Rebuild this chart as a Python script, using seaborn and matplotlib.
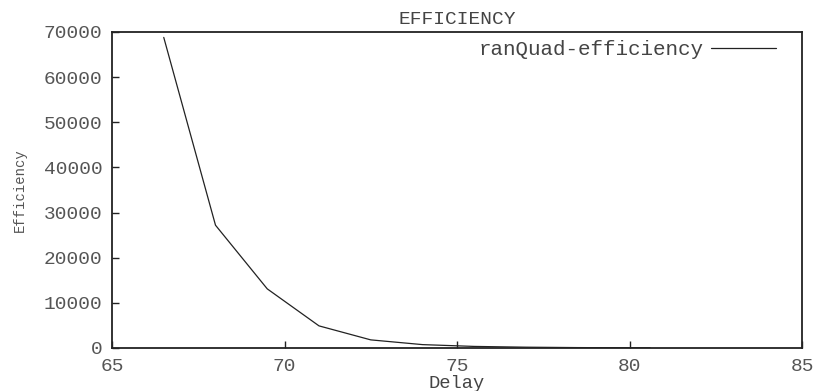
import matplotlib
matplotlib.use('Agg')
import matplotlib.pyplot as plt
import seaborn as sns
import pandas as pd

delay = [66.5, 68.0, 69.5, 71.0, 72.5, 74.0, 75.5, 77.0, 78.5, 80.0, 80.6]
efficiency = [68800, 27200, 13100, 4900, 1800, 750, 350, 180, 90, 50, 30]
series_name = 'ranQuad-efficiency'

x_ticks = [65, 70, 75, 80, 85]
y_ticks = [0, 10000, 20000, 30000, 40000, 50000, 60000, 70000]

sns.set_style('white')
plt.rcParams['font.family'] = ['Liberation Mono', 'DejaVu Sans Mono']

df = pd.DataFrame({'Delay': delay, 'Efficiency': efficiency, 'series': series_name})

fig = plt.figure(figsize=(8.13, 3.91), dpi=100)
ax = fig.add_axes([112 / 813, 1 - 348 / 391, 690 / 813, 316 / 391])

sns.lineplot(data=df, x='Delay', y='Efficiency', hue='series',
             palette=['#222222'], linewidth=0.9, ax=ax)

ax.set_xlim(65, 85)
ax.set_ylim(0, 70000)
ax.set_xticks(x_ticks)
ax.set_yticks(y_ticks)
ax.tick_params(direction='in', length=5, width=1, labelsize=14,
               colors='#222222', labelcolor='#555555', pad=7,
               bottom=True, left=True, top=False, right=False)
for s in ax.spines.values():
    s.set_linewidth(1.3)
    s.set_color('#222222')

ax.set_title('EFFICIENCY', fontsize=14, color='#444444', pad=6)
ax.set_xlabel('Delay', fontsize=13.5, color='#444444', labelpad=0)
ax.set_ylabel('Efficiency', fontsize=10, color='#555555', labelpad=12)

leg = ax.legend(loc='upper right', bbox_to_anchor=(0.974, 1.0),
                frameon=False, markerfirst=False,
                fontsize=15, handlelength=3.1, handletextpad=0.35,
                borderaxespad=0)
for t in leg.get_texts():
    t.set_color('#444444')

fig.savefig('out.png', dpi=100)
